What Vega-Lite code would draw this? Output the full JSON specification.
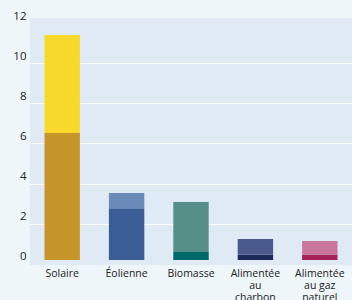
{
  "$schema": "https://vega.github.io/schema/vega-lite/v6.json",
  "width": 322,
  "height": 247,
  "autosize": "none",
  "padding": {"left": 30, "top": 18, "right": 0, "bottom": 35},
  "background": "#eef6fa",
  "config": {
    "view": {"fill": "#e0eaf5", "stroke": null},
    "font": "Open Sans"
  },
  "data": {
    "values": [
      {"source": "Solaire", "part": "Solaire-a", "ord": 1, "value": 6.32},
      {"source": "Solaire", "part": "Solaire-b", "ord": 2, "value": 4.88},
      {"source": "Éolienne", "part": "Éolienne-a", "ord": 1, "value": 2.54},
      {"source": "Éolienne", "part": "Éolienne-b", "ord": 2, "value": 0.8},
      {"source": "Biomasse", "part": "Biomasse-a", "ord": 1, "value": 0.4},
      {"source": "Biomasse", "part": "Biomasse-b", "ord": 2, "value": 2.49},
      {"source": "Alimentée|au|charbon", "part": "Charbon-a", "ord": 1, "value": 0.27},
      {"source": "Alimentée|au|charbon", "part": "Charbon-b", "ord": 2, "value": 0.78},
      {"source": "Alimentée|au gaz|naturel", "part": "Gaz-a", "ord": 1, "value": 0.27},
      {"source": "Alimentée|au gaz|naturel", "part": "Gaz-b", "ord": 2, "value": 0.68}
    ]
  },
  "mark": {"type": "bar"},
  "encoding": {
    "x": {
      "field": "source",
      "type": "nominal",
      "sort": null,
      "scale": {"paddingInner": 0.45, "paddingOuter": 0.225},
      "axis": {
        "title": null,
        "labelAngle": 0,
        "domain": false,
        "ticks": false,
        "labelPadding": 3,
        "labelFontSize": 10.5,
        "labelColor": "#222222",
        "labelLineHeight": 12,
        "labelExpr": "split(datum.label, '|')"
      }
    },
    "y": {
      "field": "value",
      "type": "quantitative",
      "stack": "zero",
      "scale": {"domain": [-0.25, 12.05], "nice": false, "zero": false},
      "axis": {
        "title": null,
        "values": [0, 2, 4, 6, 8, 10, 12],
        "domain": false,
        "ticks": false,
        "tickOffset": 4,
        "labelOffset": -7,
        "labelPadding": 4,
        "labelFontSize": 11.5,
        "labelColor": "#222222",
        "gridColor": "#ffffff",
        "gridWidth": 1.2,
        "gridOpacity": {"condition": {"test": "datum.value > 0 && datum.value < 12", "value": 1}, "value": 0}
      }
    },
    "color": {
      "field": "part",
      "type": "nominal",
      "legend": null,
      "scale": {
        "domain": ["Solaire-a", "Solaire-b", "Éolienne-a", "Éolienne-b", "Biomasse-a", "Biomasse-b", "Charbon-a", "Charbon-b", "Gaz-a", "Gaz-b"],
        "range": ["#c6962a", "#f7d92b", "#3a5d96", "#6a8bba", "#006868", "#558f88", "#1f2a5c", "#4a5a8c", "#a8225a", "#c8779a"]
      }
    },
    "order": {"field": "ord", "type": "quantitative"}
  }
}
